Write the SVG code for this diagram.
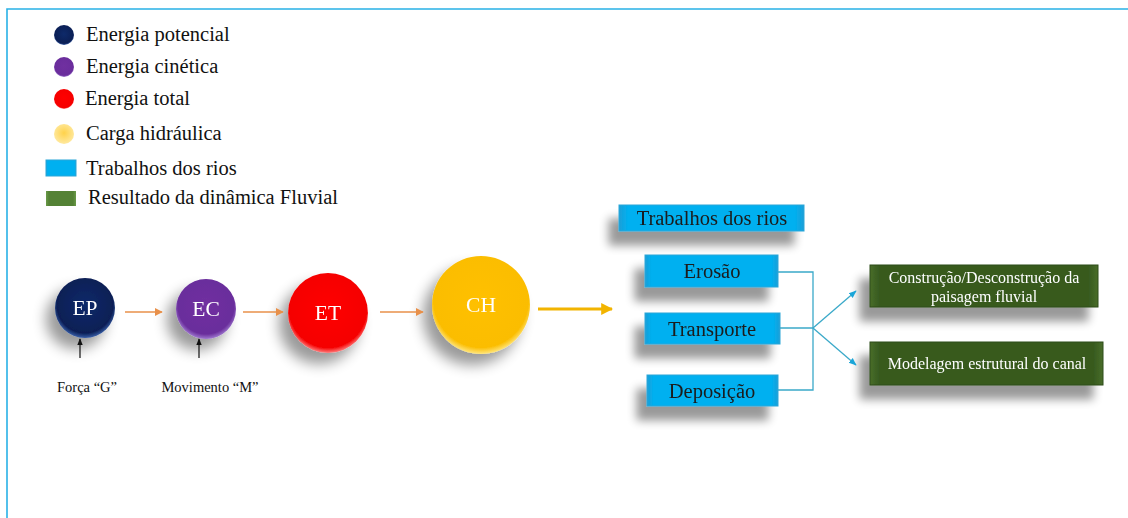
<svg xmlns="http://www.w3.org/2000/svg" width="1128" height="518" viewBox="0 0 1128 518" font-family="'Liberation Serif', 'DejaVu Serif', serif">
  <defs>
    <style>
      text { font-family: "Liberation Serif", "DejaVu Serif", serif; }
      .t { fill: #111; }
      .leg { font-size: 20.5px; }
      .node-label { font-size: 21.5px; fill: #fff; text-anchor: middle; }
      .box-label { font-size: 20.5px; text-anchor: middle; fill: #1a1a1a; }
      .res-label { font-size: 16px; text-anchor: middle; fill: #fff; }
      .small { font-size: 14.5px; text-anchor: middle; }
      .blue-box { fill: url(#gBlue); stroke: #2aa6d8; stroke-width: 1; }
      .green-box { fill: url(#gGreen); stroke: #2f4a1a; stroke-width: 1; }
      .link { fill: none; stroke: #3aa9c9; stroke-width: 1.3; }
      .flow { stroke: #e8904a; stroke-width: 1.6; fill: none; }
    </style>
    <filter id="shadow" x="-60%" y="-60%" width="220%" height="220%">
      <feGaussianBlur in="SourceAlpha" stdDeviation="7"/>
      <feOffset dx="-9" dy="11" result="b"/>
      <feComponentTransfer><feFuncA type="linear" slope="0.4"/></feComponentTransfer>
      <feMerge><feMergeNode/><feMergeNode in="SourceGraphic"/></feMerge>
    </filter>
    <filter id="boxShadow" x="-30%" y="-60%" width="160%" height="280%">
      <feGaussianBlur in="SourceAlpha" stdDeviation="5"/>
      <feOffset dx="-10" dy="14" result="b"/>
      <feComponentTransfer><feFuncA type="linear" slope="0.4"/></feComponentTransfer>
      <feMerge><feMergeNode/><feMergeNode in="SourceGraphic"/></feMerge>
    </filter>
    <radialGradient id="gNavy" cx="50%" cy="45%" r="55%">
      <stop offset="0" stop-color="#0e2a6a"/>
      <stop offset="0.85" stop-color="#0b1f55"/>
      <stop offset="1" stop-color="#3a5fa8"/>
    </radialGradient>
    <radialGradient id="gPurple" cx="50%" cy="45%" r="55%">
      <stop offset="0" stop-color="#7030a0"/>
      <stop offset="0.85" stop-color="#6a2d9c"/>
      <stop offset="1" stop-color="#a07ad0"/>
    </radialGradient>
    <radialGradient id="gRed" cx="50%" cy="45%" r="55%">
      <stop offset="0" stop-color="#ff0000"/>
      <stop offset="0.88" stop-color="#f50000"/>
      <stop offset="1" stop-color="#ff8080"/>
    </radialGradient>
    <radialGradient id="gGold" cx="50%" cy="45%" r="55%">
      <stop offset="0" stop-color="#ffc000"/>
      <stop offset="0.88" stop-color="#fbbd00"/>
      <stop offset="1" stop-color="#ffe680"/>
    </radialGradient>
    <radialGradient id="gLight" cx="50%" cy="45%" r="55%">
      <stop offset="0" stop-color="#ffd24a"/>
      <stop offset="1" stop-color="#ffe9a0"/>
    </radialGradient>
    <linearGradient id="gBlue" x1="0" y1="0" x2="1" y2="0">
      <stop offset="0" stop-color="#1a9fd8"/>
      <stop offset="0.05" stop-color="#00b0f0"/>
      <stop offset="0.95" stop-color="#00b0f0"/>
      <stop offset="1" stop-color="#1a9fd8"/>
    </linearGradient>
    <linearGradient id="gGreen" x1="0" y1="0" x2="1" y2="0">
      <stop offset="0" stop-color="#4a6e2a"/>
      <stop offset="0.04" stop-color="#375a1f"/>
      <stop offset="0.96" stop-color="#375a1f"/>
      <stop offset="1" stop-color="#4a6e2a"/>
    </linearGradient>
    <linearGradient id="gLegGreen" x1="0" y1="0" x2="1" y2="0">
      <stop offset="0" stop-color="#6a9a48"/>
      <stop offset="0.1" stop-color="#548235"/>
      <stop offset="0.9" stop-color="#548235"/>
      <stop offset="1" stop-color="#6a9a48"/>
    </linearGradient>
    <marker id="arrOrange" viewBox="0 0 10 10" refX="9" refY="5" markerWidth="5" markerHeight="5" orient="auto">
      <path d="M0,0 L10,5 L0,10 z" fill="#e8904a"/>
    </marker>
    <marker id="arrGold" viewBox="0 0 10 10" refX="9" refY="5" markerWidth="4" markerHeight="4" orient="auto">
      <path d="M0,0 L10,5 L0,10 z" fill="#f2b400"/>
    </marker>
    <marker id="arrBlack" viewBox="0 0 10 10" refX="9" refY="5" markerWidth="6" markerHeight="6" orient="auto">
      <path d="M0,1 L10,5 L0,9 z" fill="#111"/>
    </marker>
    <marker id="arrBlue" viewBox="0 0 10 10" refX="9" refY="5" markerWidth="6" markerHeight="6" orient="auto">
      <path d="M0,1 L10,5 L0,9 z" fill="#1aa5d8"/>
    </marker>
  </defs>

  <rect width="1128" height="518" fill="#fff"/>
  <!-- frame: top and left rules -->
  <path d="M7,518 V9 H1128" fill="none" stroke="#29b1e6" stroke-width="1.6"/>

  <!-- legend -->
  <g id="legend">
    <circle cx="64" cy="35" r="10" fill="url(#gNavy)"/>
    <circle cx="64" cy="67" r="10" fill="url(#gPurple)"/>
    <circle cx="64" cy="99" r="10" fill="url(#gRed)"/>
    <circle cx="64" cy="134" r="10" fill="url(#gLight)"/>
    <rect x="46" y="160" width="30" height="16" fill="url(#gBlue)" stroke="#2aa6d8"/>
    <rect x="46" y="191" width="30" height="15" fill="url(#gLegGreen)"/>
    <text class="t leg" x="86" y="41">Energia potencial</text>
    <text class="t leg" x="86" y="73">Energia cinética</text>
    <text class="t leg" x="85" y="105">Energia total</text>
    <text class="t leg" x="86" y="140">Carga hidráulica</text>
    <text class="t leg" x="86" y="175">Trabalhos dos rios</text>
    <text class="t leg" x="88" y="204">Resultado da dinâmica Fluvial</text>
  </g>

  <!-- energy chain -->
  <g id="node-ep" filter="url(#shadow)">
    <circle cx="85" cy="308" r="30" fill="url(#gNavy)"/>
    <text class="t node-label" x="85" y="315">EP</text>
  </g>
  <g id="node-ec" filter="url(#shadow)">
    <circle cx="206" cy="309" r="30" fill="url(#gPurple)"/>
    <text class="t node-label" x="206" y="316">EC</text>
  </g>
  <g id="node-et" filter="url(#shadow)">
    <circle cx="328" cy="313" r="40" fill="url(#gRed)"/>
    <text class="t node-label" x="328" y="320">ET</text>
  </g>
  <g id="node-ch" filter="url(#shadow)">
    <circle cx="481" cy="305" r="49" fill="url(#gGold)"/>
    <text class="t node-label" x="481" y="312">CH</text>
  </g>

  <g id="label-forca">
    <text class="t small" x="87" y="392">Força “G”</text>
  </g>
  <g id="label-movimento">
    <text class="t small" x="210" y="392">Movimento “M”</text>
  </g>

  <!-- river work boxes -->
  <g id="box-trabalhos" filter="url(#boxShadow)">
    <rect class="blue-box" x="619" y="205" width="185" height="26"/>
    <text class="t box-label" x="712" y="225">Trabalhos dos rios</text>
  </g>
  <g id="box-erosao" filter="url(#boxShadow)">
    <rect class="blue-box" x="645" y="255" width="133" height="32"/>
    <text class="t box-label" x="712" y="278">Erosão</text>
  </g>
  <g id="box-transporte" filter="url(#boxShadow)">
    <rect class="blue-box" x="645" y="313" width="135" height="31"/>
    <text class="t box-label" x="712" y="336">Transporte</text>
  </g>
  <g id="box-deposicao" filter="url(#boxShadow)">
    <rect class="blue-box" x="647" y="375" width="131" height="31"/>
    <text class="t box-label" x="712" y="398">Deposição</text>
  </g>

  <!-- fluvial results -->
  <g id="box-construcao" filter="url(#boxShadow)">
    <rect class="green-box" x="870" y="265" width="228" height="42"/>
    <text class="t res-label" x="984" y="283">Construção/Desconstrução da</text>
    <text class="t res-label" x="984" y="302">paisagem fluvial</text>
  </g>
  <g id="box-modelagem" filter="url(#boxShadow)">
    <rect class="green-box" x="870" y="342" width="233" height="43"/>
    <text class="t res-label" x="987" y="369">Modelagem estrutural do canal</text>
  </g>

  <!-- connectors -->
  <g id="connectors">
    <line class="flow" x1="125" y1="312" x2="162" y2="312" marker-end="url(#arrOrange)"/>
    <line class="flow" x1="243" y1="312" x2="283" y2="312" marker-end="url(#arrOrange)"/>
    <line class="flow" x1="380" y1="312" x2="423" y2="312" marker-end="url(#arrOrange)"/>
    <line x1="538" y1="309" x2="612" y2="309" stroke="#f2b400" stroke-width="3" marker-end="url(#arrGold)"/>
    <line x1="80" y1="358" x2="80" y2="339" stroke="#111" stroke-width="1.2" marker-end="url(#arrBlack)"/>
    <line x1="199" y1="358" x2="199" y2="339" stroke="#111" stroke-width="1.2" marker-end="url(#arrBlack)"/>
    <path class="link" d="M778,272 H813 V390 H778"/>
    <path class="link" d="M780,328 H813"/>
    <line class="link" x1="813" y1="328" x2="856" y2="291" stroke="#1aa5d8" marker-end="url(#arrBlue)"/>
    <line class="link" x1="813" y1="328" x2="856" y2="365" stroke="#1aa5d8" marker-end="url(#arrBlue)"/>
  </g>
</svg>
